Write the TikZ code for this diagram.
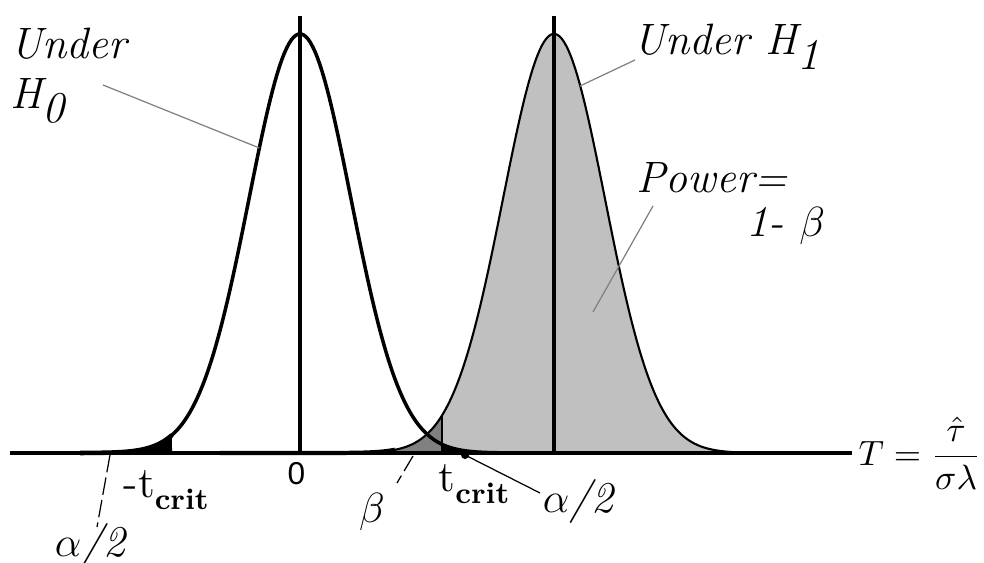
\documentclass[tikz,border=0pt]{standalone}
\usepackage{amsmath}
\usepackage{fontspec}
\newfontfamily\zerofont{Liberation Sans}
\usetikzlibrary{positioning}
\definecolor{cpower}{HTML}{C0C0C0}
\definecolor{cbeta}{HTML}{808080}
\definecolor{cleader}{HTML}{808080}
\newcommand\lowsub[1]{\raisebox{-4pt}{#1}}
\newcommand\critsub{\raisebox{-3.3pt}{\fontsize{8.5}{8.5}\selectfont\bfseries crit}}

\begin{document}
\begin{tikzpicture}[
    declare function={
        hnull(\x)=1.10+4.19*exp(-(\x-3.00)*(\x-3.00)/0.5202);
        hone(\x)=1.10+4.19*exp(-(\x-5.54)*(\x-5.54)/0.5202);
    },
    lbl/.style={inner sep=0pt, font=\fontsize{12.5}{14.2}\selectfont\itshape\addfontfeatures{LetterSpace=15}},
    critlbl/.style={inner sep=0pt, font=\fontsize{12.5}{14}\selectfont},
    leader/.style={cleader, line width=0.35pt},
    dashleader/.style={black, line width=0.35pt, dash pattern=on 5pt off 1.5pt},
    curvezero/.style={line width=1.0pt, black},
    curveone/.style={line width=0.6pt, black},
    meanline/.style={line width=0.9pt, black},
]
\useasboundingbox (0,0) rectangle (9.84,5.63);

% ============================================================
% SHADED AREAS
% ============================================================
% power = 1 - beta (under H1, right of t_crit)
\fill[cpower] (4.42,1.10) -- plot[domain=4.42:7.5, samples=150] (\x,{hone(\x)}) -- (7.5,1.10) -- cycle;
% beta (under H1, left of t_crit)
\fill[cbeta] (3.3,1.10) -- plot[domain=3.3:4.42, samples=80] (\x,{hone(\x)}) -- (4.42,1.10) -- cycle;
% alpha/2 tails under H0
\fill[black] (4.42,1.10) -- plot[domain=4.42:5.3, samples=60] (\x,{hnull(\x)}) -- (5.3,1.10) -- cycle;
\fill[black] (0.6,1.10) -- plot[domain=0.6:1.72, samples=60] (\x,{hnull(\x)}) -- (1.72,1.10) -- cycle;

% ============================================================
% AXIS, CURVES AND MEANS
% ============================================================
\coordinate (axisL) at (0.10,1.10);
\coordinate (axisR) at (8.52,1.10);
\draw[line width=0.9pt] (axisL) -- (axisR);

\draw[curvezero] plot[domain=0.6:5.3, samples=200] (\x,{hnull(\x)});
\draw[curveone] plot[domain=3.9:7.5, samples=200] (\x,{hone(\x)});
\draw[line width=1.2pt] plot[domain=2.2:3.95, samples=80] (\x,{hone(\x)});
\draw[line width=1.3pt] plot[domain=0.8:1.72, samples=40] (\x,{hnull(\x)});

\coordinate (meanzero) at (3.00,1.10);
\coordinate (meanone) at (5.54,1.10);
\draw[meanline] (meanzero) -- ++(0,4.37);
\draw[meanline] (meanone) -- ++(0,4.37);

% t_crit edge
\coordinate (tcrit) at (4.42,1.10);
\draw[line width=0.6pt] (tcrit) -- (4.42,{hone(4.42)});

% ============================================================
% LABELS
% ============================================================
\node[lbl, anchor=north west, align=left] (underhnull) at (0.10,5.36) {Under\\H\lowsub{0}};
\node[lbl, anchor=base west] (underhone) at (6.33,5.08) {Under H\lowsub{1}};
\node[lbl, anchor=base west] (power) at (6.36,3.70) {Power=};
\node[lbl, anchor=base west] (oneminus) at (7.46,3.26) {1- $\beta$};

\node[critlbl, anchor=base west] (mtcrit) at (1.23,0.65) {-t\critsub};
\node[critlbl, anchor=base west] (ptcrit) at (4.38,0.71) {t\critsub};
\node[inner sep=0pt, font=\zerofont\fontsize{9}{9}\selectfont] (zero) at (2.965,0.89) {0};

\node[lbl] (alphaL) at (0.90,0.17) {$\alpha$/2};
\node[lbl] (alphaR) at (5.78,0.61) {$\alpha$/2};
\node[lbl] (beta) at (3.72,0.51) {$\beta$};

\node[anchor=west, inner sep=0pt] (tstat) at (8.58,1.10) {$T=\dfrac{\hat{\tau}}{\sigma\lambda}$};

% ============================================================
% LEADER LINES
% ============================================================
\coordinate (hnulltail) at (1.03,4.78);
\coordinate (hnullpt) at (2.594,4.15);
\draw[leader] (hnulltail) -- (hnullpt);

\coordinate (honetail) at (6.35,5.03);
\coordinate (honept) at (5.80,4.77);
\draw[leader] (honetail) -- (honept);

\coordinate (powertail) at (6.53,3.57);
\coordinate (powerpt) at (5.93,2.51);
\draw[leader] (powertail) -- (powerpt);

\coordinate (alphaLpt) at (1.10,1.08);
\coordinate (alphaLtail) at (0.97,0.36);
\draw[dashleader] (alphaLpt) -- (alphaLtail);

\coordinate (betapt) at (4.13,1.07);
\coordinate (betatail) at (3.97,0.80);
\draw[dashleader] (betapt) -- (betatail);

\coordinate (alphaRpt) at (4.65,1.08);
\coordinate (alphaRtail) at (5.40,0.70);
\fill (alphaRpt) circle (0.04);
\draw[line width=0.35pt] (alphaRpt) -- (alphaRtail);

\end{tikzpicture}
\end{document}
